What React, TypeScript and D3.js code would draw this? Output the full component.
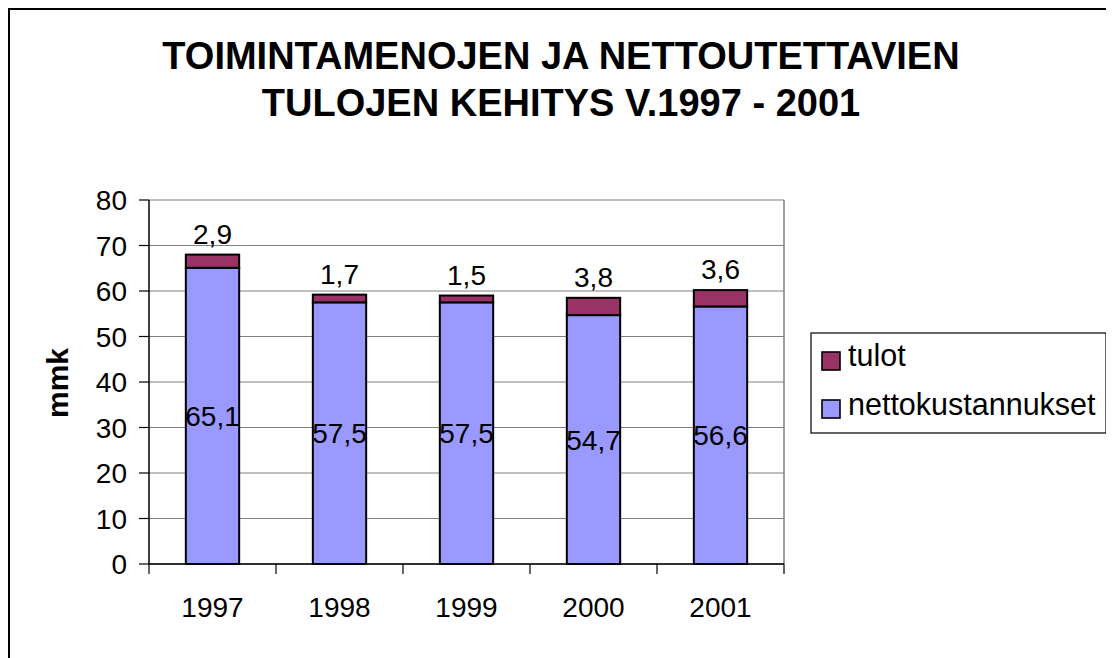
import React from "react";
import * as d3 from "d3";

const years = ["1997", "1998", "1999", "2000", "2001"];
const nettokustannukset = [65.1, 57.5, 57.5, 54.7, 56.6];
const tulot = [2.9, 1.7, 1.5, 3.8, 3.6];
const yTicks = [0, 10, 20, 30, 40, 50, 60, 70, 80];
const seriesNames = ["tulot", "nettokustannukset"];
const titleLines = ["TOIMINTAMENOJEN JA NETTOUTETTAVIEN", "TULOJEN KEHITYS V.1997 - 2001"];

const fmt = (v: number) => v.toFixed(1).replace(".", ",");

export default function App() {
  const W = 1106, H = 650;
  const left = 149, right = 784, top = 200, bottom = 564;
  const x = d3.scaleBand<string>().domain(years).range([left, right]).padding(0);
  const y = d3.scaleLinear().domain([0, 80]).range([bottom, top]);
  const bw = x.bandwidth() * 0.42;
  const font = "'Liberation Sans', Arial, sans-serif";
  const cNet = "#9999FF", cTul = "#993366";
  const boundaries = d3.range(years.length + 1).map((i) => left + i * x.bandwidth());

  return (
    <svg width={W} height={H} style={{ display: "block" }} fontFamily={font}>
      <g transform="translate(-8,-8)">
        <rect x={9} y={9} width={3000} height={3000} fill="white" stroke="#000" strokeWidth={2} />
        {titleLines.map((t, i) => (
          <text key={t} x={561} y={69 + i * 47} textAnchor="middle" fontWeight="bold" fontSize={38}>{t}</text>
        ))}
        {yTicks.map((t) => (
          <line key={"g" + t} x1={left} x2={right} y1={y(t)} y2={y(t)} stroke="#808080" strokeWidth={1.2} />
        ))}
        <line x1={right} x2={right} y1={top} y2={bottom} stroke="#808080" strokeWidth={1.5} />
        {years.map((yr, i) => {
          const cx = (x(yr) as number) + x.bandwidth() / 2;
          const n = nettokustannukset[i], t = tulot[i];
          return (
            <g key={yr}>
              <rect x={cx - bw / 2} y={y(n)} width={bw} height={y(0) - y(n)} fill={cNet} stroke="#000" strokeWidth={2} />
              <rect x={cx - bw / 2} y={y(n + t)} width={bw} height={y(n) - y(n + t)} fill={cTul} stroke="#000" strokeWidth={2} />
              <text x={cx} y={(y(0) + y(n)) / 2 + 10} textAnchor="middle" fontSize={28}>{fmt(n)}</text>
              <text x={cx} y={y(n + t) - 11} textAnchor="middle" fontSize={28}>{fmt(t)}</text>
            </g>
          );
        })}
        <line x1={left} x2={left} y1={top} y2={bottom} stroke="#000" strokeWidth={1.5} />
        <line x1={left} x2={right} y1={bottom} y2={bottom} stroke="#000" strokeWidth={1.5} />
        {yTicks.map((t) => (
          <g key={"t" + t}>
            <line x1={left - 10} x2={left} y1={y(t)} y2={y(t)} stroke="#000" strokeWidth={1.2} />
            <text x={127} y={y(t) + 10} textAnchor="end" fontSize={28}>{t}</text>
          </g>
        ))}
        {boundaries.map((bx, i) => (
          <line key={"b" + i} x1={bx} x2={bx} y1={bottom} y2={bottom + 10} stroke="#000" strokeWidth={1.2} />
        ))}
        {years.map((yr) => (
          <text key={"x" + yr} x={(x(yr) as number) + x.bandwidth() / 2} y={617} textAnchor="middle" fontSize={28}>{yr}</text>
        ))}
        <text transform="translate(68,383) rotate(-90)" textAnchor="middle" fontWeight="bold" fontSize={30}>mmk</text>
        <rect x={811} y={333} width={295} height={100} fill="white" stroke="#000" strokeWidth={1.2} />
        {seriesNames.map((s, i) => (
          <g key={s}>
            <rect x={822} y={352 + i * 48} width={18} height={18} fill={i === 0 ? cTul : cNet} stroke="#000" strokeWidth={1.6} />
            <text x={848} y={366 + i * 49} fontSize={30.5}>{s}</text>
          </g>
        ))}
      </g>
    </svg>
  );
}
